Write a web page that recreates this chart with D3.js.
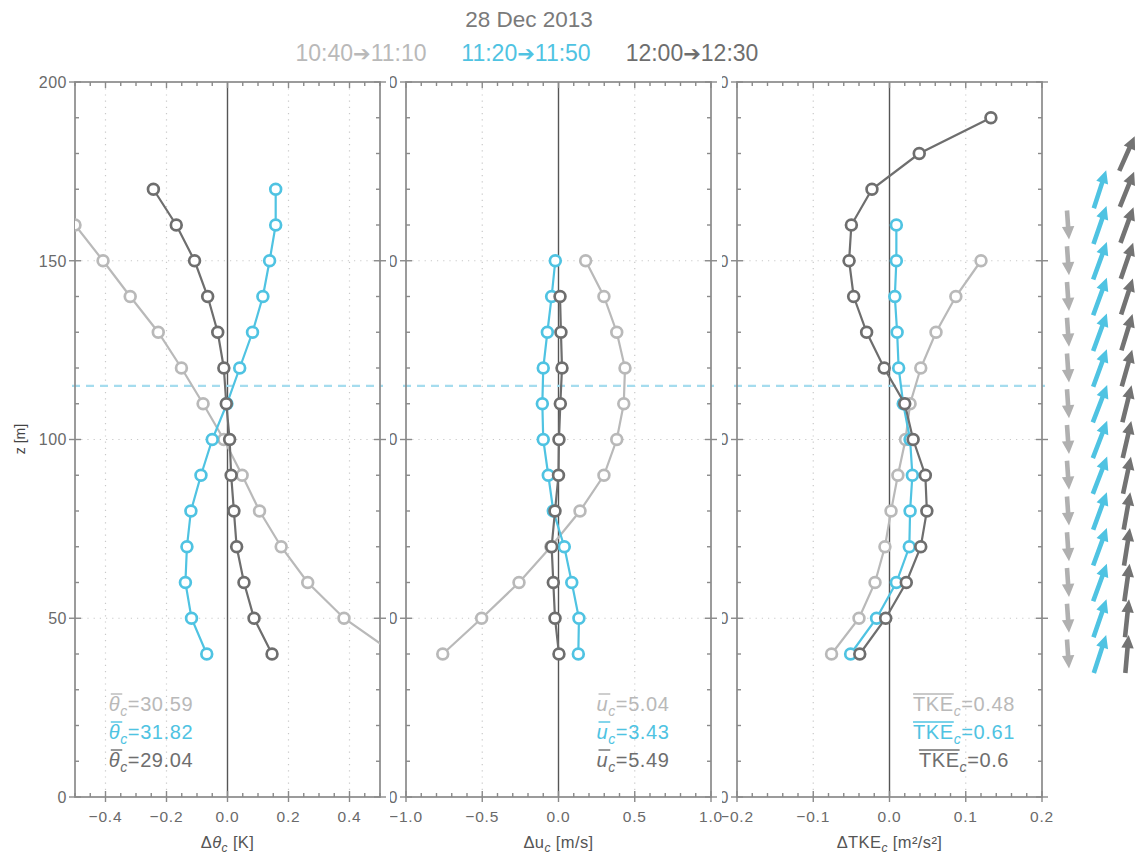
<!DOCTYPE html>
<html>
<head>
<meta charset="utf-8">
<script src="https://cdn.jsdelivr.net/npm/d3@7"></script>
<style>
  body { margin: 0; background: #fff; }
  svg { font-family: "Liberation Sans", Arial, sans-serif; }
</style>
</head>
<body>
<svg id="chart" width="1135" height="854"></svg>
<script>
// ---- data -------------------------------------------------------------
const dateLabel = "28 Dec 2013";
const runStarts = ["10:40", "11:20", "12:00"];
const runEnds = ["11:10", "11:50", "12:30"];
const runColors = ["#b9b9b9", "#4fc3e2", "#6e6e6e"];

// profiles: [height z (m), deviation]
const dThetaA = [[160,-0.5],[150,-0.408],[140,-0.319],[130,-0.227],[120,-0.151],[110,-0.08],[100,-0.012],[90,0.048],[80,0.105],[70,0.176],[60,0.263],[50,0.382],[40,0.55]];
const dThetaB = [[170,0.158],[160,0.158],[150,0.138],[140,0.116],[130,0.082],[120,0.04],[110,-0.002],[100,-0.05],[90,-0.087],[80,-0.12],[70,-0.133],[60,-0.138],[50,-0.118],[40,-0.068]];
const dThetaC = [[170,-0.243],[160,-0.168],[150,-0.108],[140,-0.065],[130,-0.032],[120,-0.012],[110,-0.004],[100,0.007],[90,0.012],[80,0.021],[70,0.03],[60,0.054],[50,0.087],[40,0.146]];

const dUA = [[150,0.178],[140,0.298],[130,0.382],[120,0.436],[110,0.428],[100,0.382],[90,0.298],[80,0.141],[70,-0.05],[60,-0.259],[50,-0.504],[40,-0.759]];
const dUB = [[150,-0.021],[140,-0.045],[130,-0.073],[120,-0.1],[110,-0.106],[100,-0.1],[90,-0.067],[80,-0.034],[70,0.038],[60,0.087],[50,0.134],[40,0.13]];
const dUC = [[140,0.01],[130,0.016],[120,0.023],[110,0.012],[100,0.003],[90,0.0],[80,-0.023],[70,-0.045],[60,-0.034],[50,-0.023],[40,0.003]];

const dTkeA = [[150,0.12],[140,0.087],[130,0.061],[120,0.041],[110,0.027],[100,0.021],[90,0.011],[80,0.002],[70,-0.006],[60,-0.019],[50,-0.04],[40,-0.076]];
const dTkeB = [[160,0.009],[150,0.009],[140,0.007],[130,0.01],[120,0.012],[110,0.018],[100,0.027],[90,0.03],[80,0.027],[70,0.026],[60,0.009],[50,-0.017],[40,-0.051]];
const dTkeC = [[190,0.133],[180,0.039],[170,-0.023],[160,-0.05],[150,-0.053],[140,-0.047],[130,-0.03],[120,-0.007],[110,0.02],[100,0.031],[90,0.047],[80,0.049],[70,0.041],[60,0.022],[50,-0.005],[40,-0.039]];

const thetaMeans = ["30.59", "31.82", "29.04"];
const uMeans = ["5.04", "3.43", "5.49"];
const tkeMeans = ["0.48", "0.61", "0.6"];

const thetaTicks = [-0.4, -0.2, 0.0, 0.2, 0.4];
const uTicks = [-1.0, -0.5, 0.0, 0.5, 1.0];
const tkeTicks = [-0.2, -0.1, 0.0, 0.1, 0.2];
const zTicks = [0, 50, 100, 150, 200];

const boundaryHeight = 115;

// wind direction per level, degrees clockwise from up
const windZA = [160,150,140,130,120,110,100,90,80,70,60,50,40];
const windDirA = [176,176,176,176,176,176,176,176,176,176,176,176,176];
const windZB = [170,160,150,140,130,120,110,100,90,80,70,60,50,40];
const windDirB = [18,19,20,20,20,20,21,21,21,20,20,20,19,18];
const windZC = [180,170,160,150,140,130,120,110,100,90,80,70,60,50,40];
const windDirC = [24,22,20,19,18,17,16,14,13,12,10,9,8,6,5];

// ---- layout -----------------------------------------------------------
const svg = d3.select("#chart");
const W = 1135, H = 854;
const plotTop = 82, plotBottom = 797, plotW = 305;
const y = d3.scaleLinear().domain([0, 200]).range([plotBottom, plotTop]);
const axisColor = "#8a8a8a", labelColor = "#6a6a6a";

const panels = [
  { left: 75,  domain: [-0.5, 0.5], ticks: thetaTicks, grid: [-0.4,-0.2,0.2,0.4], fmt: d3.format(".1f"),
    series: [dThetaA, dThetaB, dThetaC], means: thetaMeans, meanX: 151, sym: "θ", symItalic: true,
    title: [["Δ",false],["θ",true]], unit: " [K]", clipLeft: 0 },
  { left: 406, domain: [-1, 1], ticks: uTicks, grid: [-0.5, 0.5], fmt: d3.format(".1f"),
    series: [dUA, dUB, dUC], means: uMeans, meanX: 633, sym: "u", symItalic: true,
    title: [["Δu",false]], unit: " [m/s]", clipLeft: 390 },
  { left: 737, domain: [-0.2, 0.2], ticks: tkeTicks, grid: [-0.1, 0.1], fmt: d3.format(".1f"),
    series: [dTkeA, dTkeB, dTkeC], means: tkeMeans, meanX: 964, sym: "TKE", symItalic: false,
    title: [["ΔTKE",false]], unit: " [m²/s²]", clipLeft: 722 }
];

const defs = svg.append("defs");

// ---- title ------------------------------------------------------------
svg.append("text").attr("x", 529).attr("y", 27).attr("text-anchor", "middle")
  .attr("fill", "#7a7a7a").style("font-size", "22.5px").text(dateLabel);
const runCenters = [361, 526, 692];
runStarts.forEach((s, i) => {
  const t = svg.append("text").attr("x", runCenters[i]).attr("y", 61).attr("text-anchor", "middle")
    .attr("fill", runColors[i]).style("font-size", "23px");
  t.append("tspan").text(s);
  t.append("tspan").text("➔").style("font-family", "DejaVu Sans").style("font-size", "21px");
  t.append("tspan").text(runEnds[i]);
});

// y axis title
svg.append("text").attr("transform", "translate(25,439) rotate(-90)")
  .attr("text-anchor", "middle").attr("fill", "#444").style("font-size", "14px").text("z [m]");

// ---- panels -----------------------------------------------------------
panels.forEach((p, pi) => {
  const right = p.left + plotW;
  const x = d3.scaleLinear().domain(p.domain).range([p.left, right]);

  const clipAll = "clipAll" + pi, clipPlot = "clipPlot" + pi;
  defs.append("clipPath").attr("id", clipAll).append("rect")
    .attr("x", p.clipLeft).attr("y", 0).attr("width", W - p.clipLeft).attr("height", H);
  defs.append("clipPath").attr("id", clipPlot).append("rect")
    .attr("x", p.left).attr("y", plotTop).attr("width", plotW).attr("height", plotBottom - plotTop);

  const g = svg.append("g").attr("clip-path", `url(#${clipAll})`);

  // dotted grid
  const grid = g.append("g").attr("stroke", "#c9c9c9").attr("stroke-width", 1.2)
    .attr("stroke-dasharray", "1.2,5");
  p.grid.forEach(v => grid.append("line").attr("x1", x(v)).attr("x2", x(v))
    .attr("y1", plotTop).attr("y2", plotBottom));
  [50, 100, 150].forEach(z => grid.append("line").attr("x1", p.left).attr("x2", right)
    .attr("y1", y(z)).attr("y2", y(z)));

  // zero line
  g.append("line").attr("x1", x(0)).attr("x2", x(0)).attr("y1", plotTop).attr("y2", plotBottom)
    .attr("stroke", "#555").attr("stroke-width", 1.4);

  // boundary height marker
  g.append("line").attr("x1", p.left - 3).attr("x2", right + 3)
    .attr("y1", y(boundaryHeight)).attr("y2", y(boundaryHeight))
    .attr("stroke", "#a5dcee").attr("stroke-width", 2.4).attr("stroke-dasharray", "8,6");

  // frame and ticks
  const tk = g.append("g").attr("stroke", axisColor).attr("stroke-width", 1.4);
  d3.range(0, 201, 10).forEach(z => {
    const major = z % 50 === 0;
    tk.append("line").attr("x1", p.left - (major ? 6 : 0)).attr("x2", p.left + (major ? 6 : 4))
      .attr("y1", y(z)).attr("y2", y(z));
    tk.append("line").attr("x1", right - (major ? 6 : 4)).attr("x2", right + (major ? 6 : 0))
      .attr("y1", y(z)).attr("y2", y(z));
  });
  const step = (p.domain[1] - p.domain[0]) / 20;
  d3.range(0, 21).forEach(k => {
    const v = p.domain[0] + k * step;
    const labeled = p.ticks.some(t => Math.abs(t - v) < 1e-9);
    tk.append("line").attr("x1", x(v)).attr("x2", x(v))
      .attr("y1", plotBottom + (labeled ? 5 : 0)).attr("y2", plotBottom - (labeled ? 6 : 4));
    tk.append("line").attr("x1", x(v)).attr("x2", x(v))
      .attr("y1", plotTop).attr("y2", plotTop + (labeled ? 6 : 4));
  });
  g.append("rect").attr("x", p.left).attr("y", plotTop).attr("width", plotW)
    .attr("height", plotBottom - plotTop).attr("fill", "none")
    .attr("stroke", axisColor).attr("stroke-width", 1.7);

  // tick labels
  zTicks.forEach(z => g.append("text").attr("x", p.left - 8).attr("y", y(z)).attr("dy", "0.36em")
    .attr("text-anchor", "end").attr("fill", labelColor).style("font-size", "16px")
    .style("letter-spacing", "0.5px").text(z));
  p.ticks.forEach(v => g.append("text").attr("x", x(v)).attr("y", 822)
    .attr("text-anchor", "middle").attr("fill", labelColor).style("font-size", "15.5px")
    .style("letter-spacing", "0.8px").text(p.fmt(v).replace("-", "−")));

  // axis title
  const at = g.append("text").attr("x", x(0)).attr("y", 848).attr("text-anchor", "middle")
    .attr("fill", "#555").style("font-size", "16.5px").style("letter-spacing", "0.4px");
  p.title.forEach(([s, it]) => at.append("tspan").text(s).style("font-style", it ? "italic" : "normal"));
  at.append("tspan").text("c").attr("dy", 4).style("font-size", "12px").style("font-style", "italic");
  at.append("tspan").text(p.unit).attr("dy", -4);

  // profiles
  const line = d3.line().x(d => x(d[1])).y(d => y(d[0]));
  const pg = g.append("g").attr("clip-path", `url(#${clipPlot})`);
  p.series.forEach((s, si) => {
    pg.append("path").datum(s).attr("d", line).attr("fill", "none")
      .attr("stroke", runColors[si]).attr("stroke-width", 2.2);
    pg.selectAll(null).data(s).join("circle")
      .attr("cx", d => x(d[1])).attr("cy", d => y(d[0])).attr("r", 5.4)
      .attr("fill", "#fff").attr("stroke", runColors[si]).attr("stroke-width", 2.7);
  });

  // mean values
  p.means.forEach((m, si) => {
    const by = 711 + si * 28;
    const t = g.append("text").attr("x", p.meanX).attr("y", by).attr("text-anchor", "middle")
      .attr("fill", runColors[si]).style("font-size", "20px").style("letter-spacing", "0.6px");
    t.append("tspan").text(p.sym).style("font-style", p.symItalic ? "italic" : "normal");
    t.append("tspan").text("c").attr("dy", 5).style("font-size", "14px").style("font-style", "italic");
    t.append("tspan").text("=" + m).attr("dy", -5);
    const node = t.node();
    const x0 = node.getStartPositionOfChar(0).x;
    const x1 = node.getEndPositionOfChar(p.sym.length - 1).x;
    g.append("line").attr("x1", x0 + (p.symItalic ? 2 : 0)).attr("x2", x1 + (p.symItalic ? 2 : 0))
      .attr("y1", by - 17).attr("y2", by - 17)
      .attr("stroke", runColors[si]).attr("stroke-width", 1.4);
  });
});

// ---- wind direction arrows -------------------------------------------
function arrowPath(L, sw, hw, hl) {
  const a = -L / 2, b = L / 2;
  return `M${-sw/2},${b} L${-sw/2},${a+hl} L${-hw},${a+hl} L0,${a} L${hw},${a+hl} L${sw/2},${a+hl} L${sw/2},${b} Z`;
}
const windCols = [
  { zs: windZA, dirs: windDirA, cx: 1068, len: 29, color: "#b0b0b0" },
  { zs: windZB, dirs: windDirB, cx: 1100, len: 40, color: runColors[1] },
  { zs: windZC, dirs: windDirC, cx: 1127, len: 38, color: "#737373" }
];
windCols.forEach(c => {
  const d = arrowPath(c.len, 4.6, 6.2, 13);
  svg.append("g").selectAll("path").data(c.zs).join("path")
    .attr("d", d)
    .attr("transform", (z, i) => `translate(${c.cx},${y(z)}) rotate(${c.dirs[i]})`)
    .attr("fill", c.color);
});
</script>
</body>
</html>
